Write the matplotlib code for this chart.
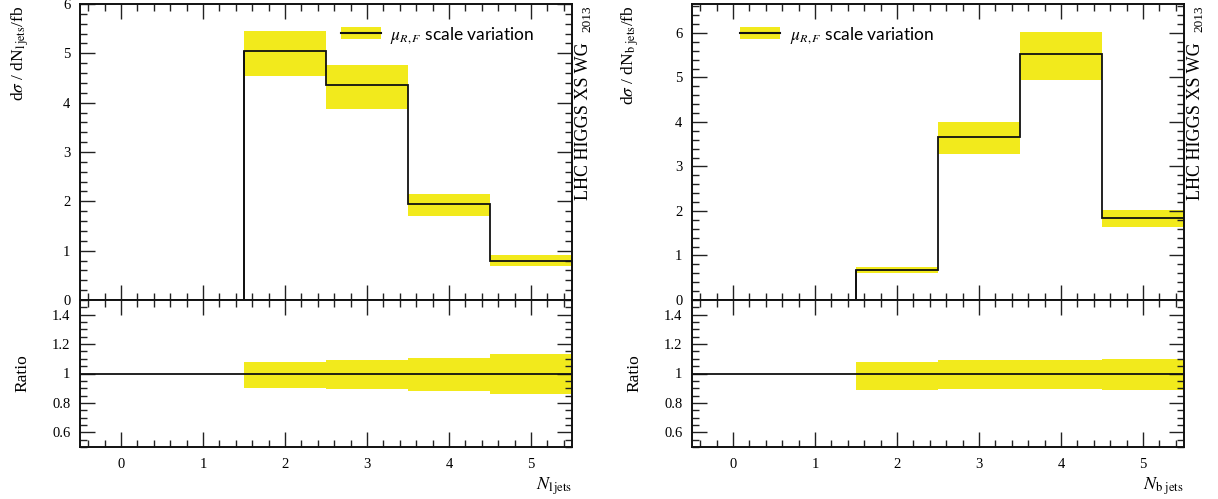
import matplotlib
matplotlib.use('Agg')
import matplotlib.pyplot as plt
import numpy as np
from matplotlib.ticker import MultipleLocator, FuncFormatter
from matplotlib.patches import Patch
from matplotlib.lines import Line2D

# ---------------- data ----------------
bin_edges = [-0.5, 0.5, 1.5, 2.5, 3.5, 4.5, 5.5]
bin_centers = [0, 1, 2, 3, 4, 5]

ljets_central = [0.0, 0.0, 5.05, 4.35, 1.94, 0.80]
ljets_up = [0.0, 0.0, 5.45, 4.76, 2.14, 0.905]
ljets_down = [0.0, 0.0, 4.55, 3.88, 1.71, 0.69]

bjets_central = [0.0, 0.0, 0.68, 3.66, 5.52, 1.85]
bjets_up = [0.0, 0.0, 0.735, 4.00, 6.03, 2.03]
bjets_down = [0.0, 0.0, 0.605, 3.28, 4.95, 1.64]

x_ticklabels = ["0", "1", "2", "3", "4", "5"]
ratio_ticks = [0.6, 0.8, 1.0, 1.2, 1.4]
ratio_ticklabels = ["0.6", "0.8", "1", "1.2", "1.4"]

legend_label = r'$\mu_{R,F}$ scale variation'
watermark = "LHC HIGGS XS WG"
watermark_year = "2013"

# ---------------- style ----------------
YELLOW = '#f2ea1c'
plt.rcParams['font.family'] = ['Liberation Serif', 'DejaVu Serif']
plt.rcParams['mathtext.fontset'] = 'stix'

W, H = 1218, 499
fig = plt.figure(figsize=(W / 100, H / 100), dpi=100)


def fx(px):
    return px / W


def fy(py):
    return 1 - py / H


def style_axis(ax, xminor, yminor, ymajor):
    ax.xaxis.set_major_locator(MultipleLocator(1))
    ax.xaxis.set_minor_locator(MultipleLocator(xminor))
    ax.yaxis.set_major_locator(MultipleLocator(ymajor))
    ax.yaxis.set_minor_locator(MultipleLocator(yminor))
    ax.tick_params(which='both', direction='in', top=True, right=True,
                   width=1.0, color='#222222')
    ax.tick_params(which='major', length=11)
    ax.tick_params(which='minor', length=5)
    for s in ax.spines.values():
        s.set_linewidth(1.4)
        s.set_color('#111111')


panels = [
    dict(x0=80, x1=572, central=ljets_central, up=ljets_up, down=ljets_down,
         ymax=6.0, ylabel=r'd$\sigma$ / dN$_{\mathrm{l\,jets}}$/fb',
         xlabel=r'$N_{\mathrm{l\,jets}}$', leg_x=0.53, ylab_x=20, rat_x=22,
         wm_x=583, yr_x=587),
    dict(x0=692, x1=1184, central=bjets_central, up=bjets_up, down=bjets_down,
         ymax=6.65, ylabel=r'd$\sigma$ / dN$_{\mathrm{b\ jets}}$/fb',
         xlabel=r'$N_{\mathrm{b\ jets}}$', leg_x=0.098, ylab_x=630, rat_x=634,
         wm_x=1195, yr_x=1199),
]

top_px, mid_px, bot_px = 4, 300, 447

for p in panels:
    left = fx(p['x0'])
    width = (p['x1'] - p['x0']) / W
    ax = fig.add_axes([left, fy(mid_px), width, (mid_px - top_px) / H])
    axr = fig.add_axes([left, fy(bot_px), width, (bot_px - mid_px) / H])

    central = np.array(p['central'])
    up = np.array(p['up'])
    down = np.array(p['down'])
    has = central > 0
    centers = np.array(bin_centers)

    # upper panel
    ax.bar(centers[has], (up - down)[has], bottom=down[has], width=1.0,
           color=YELLOW, edgecolor='none', zorder=1)
    ax.stairs(central, bin_edges, baseline=None, color='#111111', lw=1.3, zorder=3)
    ax.vlines(bin_edges[2], 0, central[2], color='#111111', lw=1.3, zorder=3)
    ax.set_xlim(-0.5, 5.5)
    ax.set_ylim(0, p['ymax'])
    style_axis(ax, 0.2, 0.2, 1)
    ax.set_xticklabels([])
    ax.yaxis.set_major_formatter(FuncFormatter(lambda v, pos: '%g' % v))
    ax.tick_params(axis='y', labelsize=10.5, pad=7)

    handle = (Patch(facecolor=YELLOW, edgecolor='none'),
              Line2D([], [], color='#111111', lw=1.5))
    ax.legend([handle], [legend_label], loc='center left',
              bbox_to_anchor=(p['leg_x'], 0.895), frameon=False,
              borderpad=0, borderaxespad=0, handlelength=2.3,
              handleheight=0.65, handletextpad=0.55,
              prop=dict(family=['Lato', 'DejaVu Sans'], size=12.5))

    # ratio panel
    rup = np.where(has, up / np.where(has, central, 1), 1)
    rdn = np.where(has, down / np.where(has, central, 1), 1)
    axr.bar(centers[has], (rup - rdn)[has], bottom=rdn[has], width=1.0,
            color=YELLOW, edgecolor='none', zorder=1)
    ratio_central = np.ones(len(central))
    axr.stairs(ratio_central, bin_edges, baseline=None, color='#111111',
               lw=1.3, zorder=3)
    axr.set_xlim(-0.5, 5.5)
    axr.set_ylim(0.5, 1.5)
    style_axis(axr, 0.2, 0.05, 0.2)
    axr.set_yticks(ratio_ticks)
    axr.set_yticklabels(ratio_ticklabels)
    axr.set_xticks(bin_centers)
    axr.set_xticklabels(x_ticklabels)
    axr.tick_params(axis='y', labelsize=10.5, pad=7)
    axr.tick_params(axis='x', labelsize=10.5, pad=8)

    # labels
    fig.text(fx(p['ylab_x']), fy(top_px + 1), p['ylabel'], rotation=90,
             ha='center', va='top', fontsize=12.5)
    fig.text(fx(p['rat_x']), fy(373), 'Ratio', rotation=90,
             ha='center', va='center', fontsize=12.5)
    fig.text(fx(p['x1']), fy(486), p['xlabel'], ha='right', va='center',
             fontsize=13)
    fig.text(fx(p['wm_x']), fy(200), watermark, rotation=90,
             ha='center', va='bottom', fontsize=13)
    fig.text(fx(p['yr_x']), fy(5), watermark_year, rotation=90,
             ha='center', va='top', fontsize=9.5)

fig.savefig('out.png', dpi=100)
